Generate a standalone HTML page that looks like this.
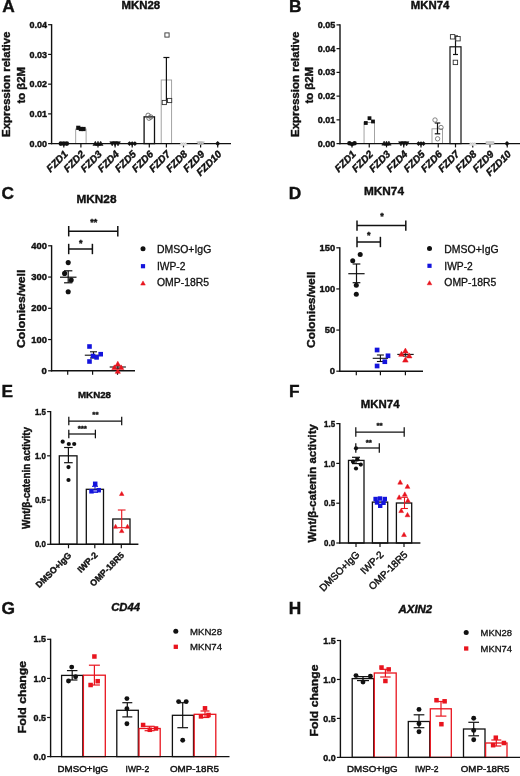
<!DOCTYPE html>
<html><head><meta charset="utf-8"><title>Figure</title>
<style>html,body{margin:0;padding:0;background:#fff}svg{display:block}text{font-family:"Liberation Sans", Arial, sans-serif}</style>
</head><body>
<svg width="520" height="776" viewBox="0 0 520 776">
<rect width="520" height="776" fill="#fff"/>
<text x="2.20" y="12.30" font-size="17.3" font-weight="bold" font-style="normal" text-anchor="start" fill="#111" stroke="#111" stroke-width="0.4">A</text>
<text x="289.00" y="12.40" font-size="17.3" font-weight="bold" font-style="normal" text-anchor="start" fill="#111" stroke="#111" stroke-width="0.4">B</text>
<text x="1.60" y="199.30" font-size="17.3" font-weight="bold" font-style="normal" text-anchor="start" fill="#111" stroke="#111" stroke-width="0.4">C</text>
<text x="288.80" y="199.30" font-size="17.3" font-weight="bold" font-style="normal" text-anchor="start" fill="#111" stroke="#111" stroke-width="0.4">D</text>
<text x="1.60" y="397.00" font-size="17.3" font-weight="bold" font-style="normal" text-anchor="start" fill="#111" stroke="#111" stroke-width="0.4">E</text>
<text x="289.00" y="397.00" font-size="17.3" font-weight="bold" font-style="normal" text-anchor="start" fill="#111" stroke="#111" stroke-width="0.4">F</text>
<text x="1.60" y="614.30" font-size="17.3" font-weight="bold" font-style="normal" text-anchor="start" fill="#111" stroke="#111" stroke-width="0.4">G</text>
<text x="288.80" y="614.00" font-size="17.3" font-weight="bold" font-style="normal" text-anchor="start" fill="#111" stroke="#111" stroke-width="0.4">H</text>
<text x="121.60" y="9.30" font-size="10.6" font-weight="bold" font-style="normal" text-anchor="start" fill="#111" stroke="#111" stroke-width="0.4" textLength="38.6" lengthAdjust="spacingAndGlyphs">MKN28</text>
<g id="pA">
<rect x="75.70" y="129.03" width="10.40" height="14.57" fill="#fff" stroke="#999" stroke-width="0.9"/>
<rect x="144.10" y="116.85" width="10.40" height="26.75" fill="#fff" stroke="#111" stroke-width="1.3"/>
<rect x="161.20" y="80.00" width="10.40" height="63.60" fill="#fff" stroke="#999" stroke-width="0.9"/>
<line x1="50.90" y1="143.60" x2="231.00" y2="143.60" stroke="#111" stroke-width="1.4"/>
<line x1="63.80" y1="143.60" x2="63.80" y2="147.40" stroke="#111" stroke-width="1.2"/>
<text x="68.40" y="154.80" font-size="10.1" font-weight="bold" font-style="italic" text-anchor="end" fill="#111" stroke="#111" stroke-width="0.4" transform="rotate(-45 68.40 154.80)">FZD1</text>
<line x1="80.90" y1="143.60" x2="80.90" y2="147.40" stroke="#111" stroke-width="1.2"/>
<text x="85.50" y="154.80" font-size="10.1" font-weight="bold" font-style="italic" text-anchor="end" fill="#111" stroke="#111" stroke-width="0.4" transform="rotate(-45 85.50 154.80)">FZD2</text>
<line x1="98.00" y1="143.60" x2="98.00" y2="147.40" stroke="#111" stroke-width="1.2"/>
<text x="102.60" y="154.80" font-size="10.1" font-weight="bold" font-style="italic" text-anchor="end" fill="#111" stroke="#111" stroke-width="0.4" transform="rotate(-45 102.60 154.80)">FZD3</text>
<line x1="115.10" y1="143.60" x2="115.10" y2="147.40" stroke="#111" stroke-width="1.2"/>
<text x="119.70" y="154.80" font-size="10.1" font-weight="bold" font-style="italic" text-anchor="end" fill="#111" stroke="#111" stroke-width="0.4" transform="rotate(-45 119.70 154.80)">FZD4</text>
<line x1="132.20" y1="143.60" x2="132.20" y2="147.40" stroke="#111" stroke-width="1.2"/>
<text x="136.80" y="154.80" font-size="10.1" font-weight="bold" font-style="italic" text-anchor="end" fill="#111" stroke="#111" stroke-width="0.4" transform="rotate(-45 136.80 154.80)">FZD5</text>
<line x1="149.30" y1="143.60" x2="149.30" y2="147.40" stroke="#111" stroke-width="1.2"/>
<text x="153.90" y="154.80" font-size="10.1" font-weight="bold" font-style="italic" text-anchor="end" fill="#111" stroke="#111" stroke-width="0.4" transform="rotate(-45 153.90 154.80)">FZD6</text>
<line x1="166.40" y1="143.60" x2="166.40" y2="147.40" stroke="#111" stroke-width="1.2"/>
<text x="171.00" y="154.80" font-size="10.1" font-weight="bold" font-style="italic" text-anchor="end" fill="#111" stroke="#111" stroke-width="0.4" transform="rotate(-45 171.00 154.80)">FZD7</text>
<line x1="183.50" y1="143.60" x2="183.50" y2="147.40" stroke="#111" stroke-width="1.2"/>
<text x="188.10" y="154.80" font-size="10.1" font-weight="bold" font-style="italic" text-anchor="end" fill="#111" stroke="#111" stroke-width="0.4" transform="rotate(-45 188.10 154.80)">FZD8</text>
<line x1="200.60" y1="143.60" x2="200.60" y2="147.40" stroke="#111" stroke-width="1.2"/>
<text x="205.20" y="154.80" font-size="10.1" font-weight="bold" font-style="italic" text-anchor="end" fill="#111" stroke="#111" stroke-width="0.4" transform="rotate(-45 205.20 154.80)">FZD9</text>
<line x1="217.70" y1="143.60" x2="217.70" y2="147.40" stroke="#111" stroke-width="1.2"/>
<text x="222.30" y="154.80" font-size="10.1" font-weight="bold" font-style="italic" text-anchor="end" fill="#111" stroke="#111" stroke-width="0.4" transform="rotate(-45 222.30 154.80)">FZD10</text>
<line x1="51.60" y1="24.10" x2="51.60" y2="144.20" stroke="#111" stroke-width="1.4"/>
<line x1="48.10" y1="143.60" x2="51.60" y2="143.60" stroke="#111" stroke-width="1.2"/>
<text x="46.90" y="146.70" font-size="8.5" font-weight="bold" font-style="normal" text-anchor="end" fill="#111" stroke="#111" stroke-width="0.4" textLength="17.5" lengthAdjust="spacingAndGlyphs">0.00</text>
<line x1="48.10" y1="113.88" x2="51.60" y2="113.88" stroke="#111" stroke-width="1.2"/>
<text x="46.90" y="116.97" font-size="8.5" font-weight="bold" font-style="normal" text-anchor="end" fill="#111" stroke="#111" stroke-width="0.4" textLength="17.5" lengthAdjust="spacingAndGlyphs">0.01</text>
<line x1="48.10" y1="84.15" x2="51.60" y2="84.15" stroke="#111" stroke-width="1.2"/>
<text x="46.90" y="87.25" font-size="8.5" font-weight="bold" font-style="normal" text-anchor="end" fill="#111" stroke="#111" stroke-width="0.4" textLength="17.5" lengthAdjust="spacingAndGlyphs">0.02</text>
<line x1="48.10" y1="54.42" x2="51.60" y2="54.42" stroke="#111" stroke-width="1.2"/>
<text x="46.90" y="57.52" font-size="8.5" font-weight="bold" font-style="normal" text-anchor="end" fill="#111" stroke="#111" stroke-width="0.4" textLength="17.5" lengthAdjust="spacingAndGlyphs">0.03</text>
<line x1="48.10" y1="24.70" x2="51.60" y2="24.70" stroke="#111" stroke-width="1.2"/>
<text x="46.90" y="27.80" font-size="8.5" font-weight="bold" font-style="normal" text-anchor="end" fill="#111" stroke="#111" stroke-width="0.4" textLength="17.5" lengthAdjust="spacingAndGlyphs">0.04</text>
<circle cx="60.80" cy="143.60" r="2.3" fill="#111" stroke="#111" stroke-width="0"/>
<circle cx="63.80" cy="143.60" r="2.3" fill="#111" stroke="#111" stroke-width="0"/>
<circle cx="66.80" cy="143.60" r="2.3" fill="#111" stroke="#111" stroke-width="0"/>
<rect x="76.20" y="125.70" width="4.2" height="4.2" fill="#111" stroke="#111" stroke-width="0"/>
<rect x="78.80" y="126.90" width="4.2" height="4.2" fill="#111" stroke="#111" stroke-width="0"/>
<rect x="81.40" y="126.90" width="4.2" height="4.2" fill="#111" stroke="#111" stroke-width="0"/>
<polygon points="95.30,141.14 92.90,145.46 97.70,145.46" fill="#111" stroke="#111" stroke-width="0.5" stroke-linejoin="round"/>
<polygon points="98.00,141.14 95.60,145.46 100.40,145.46" fill="#111" stroke="#111" stroke-width="0.5" stroke-linejoin="round"/>
<polygon points="100.70,141.14 98.30,145.46 103.10,145.46" fill="#111" stroke="#111" stroke-width="0.5" stroke-linejoin="round"/>
<polygon points="112.20,145.96 109.80,141.64 114.60,141.64" fill="#111" stroke="#111" stroke-width="0.5" stroke-linejoin="round"/>
<polygon points="115.10,145.96 112.70,141.64 117.50,141.64" fill="#111" stroke="#111" stroke-width="0.5" stroke-linejoin="round"/>
<polygon points="118.00,145.96 115.60,141.64 120.40,141.64" fill="#111" stroke="#111" stroke-width="0.5" stroke-linejoin="round"/>
<polygon points="129.50,141.20 131.90,143.60 129.50,146.00 127.10,143.60" fill="#111"/>
<polygon points="132.20,141.20 134.60,143.60 132.20,146.00 129.80,143.60" fill="#111"/>
<polygon points="134.90,141.20 137.30,143.60 134.90,146.00 132.50,143.60" fill="#111"/>
<circle cx="148.10" cy="115.30" r="2.2" fill="none" stroke="#555" stroke-width="0.8"/>
<circle cx="150.80" cy="117.00" r="2.2" fill="none" stroke="#555" stroke-width="0.8"/>
<circle cx="149.00" cy="118.20" r="2.2" fill="none" stroke="#555" stroke-width="0.8"/>
<line x1="166.40" y1="57.50" x2="166.40" y2="102.00" stroke="#111" stroke-width="1.2"/>
<line x1="163.40" y1="57.50" x2="169.40" y2="57.50" stroke="#111" stroke-width="1.2"/>
<line x1="163.40" y1="102.00" x2="169.40" y2="102.00" stroke="#111" stroke-width="1.2"/>
<rect x="164.90" y="32.90" width="4.2" height="4.2" fill="#fff" stroke="#333" stroke-width="0.9"/>
<rect x="162.20" y="100.40" width="4.2" height="4.2" fill="#fff" stroke="#333" stroke-width="0.9"/>
<rect x="167.50" y="98.40" width="4.2" height="4.2" fill="#fff" stroke="#333" stroke-width="0.9"/>
<polygon points="181.50,141.98 179.70,145.22 183.30,145.22" fill="#ddd" stroke="#ddd" stroke-width="0.5" stroke-linejoin="round"/>
<polygon points="183.50,141.98 181.70,145.22 185.30,145.22" fill="#ddd" stroke="#ddd" stroke-width="0.5" stroke-linejoin="round"/>
<polygon points="185.50,141.98 183.70,145.22 187.30,145.22" fill="#ddd" stroke="#ddd" stroke-width="0.5" stroke-linejoin="round"/>
<polygon points="198.60,144.92 196.80,141.68 200.40,141.68" fill="#bbb" stroke="#bbb" stroke-width="0.5" stroke-linejoin="round"/>
<polygon points="200.60,144.92 198.80,141.68 202.40,141.68" fill="#bbb" stroke="#bbb" stroke-width="0.5" stroke-linejoin="round"/>
<polygon points="202.60,144.92 200.80,141.68 204.40,141.68" fill="#bbb" stroke="#bbb" stroke-width="0.5" stroke-linejoin="round"/>
<polygon points="217.70,141.10 220.20,143.60 217.70,146.10 215.20,143.60" fill="#111"/>
</g>
<text x="10.30" y="137.00" font-size="11" font-weight="bold" font-style="normal" text-anchor="start" fill="#111" stroke="#111" stroke-width="0.4" textLength="105.5" lengthAdjust="spacingAndGlyphs" transform="rotate(-90 10.30 137.00)">Expression relative</text>
<text x="24.60" y="103.50" font-size="11" font-weight="bold" font-style="normal" text-anchor="start" fill="#111" stroke="#111" stroke-width="0.4" textLength="36.5" lengthAdjust="spacingAndGlyphs" transform="rotate(-90 24.60 103.50)">to β2M</text>
<text x="410.80" y="9.00" font-size="10.6" font-weight="bold" font-style="normal" text-anchor="start" fill="#111" stroke="#111" stroke-width="0.4" textLength="38.6" lengthAdjust="spacingAndGlyphs">MKN74</text>
<g id="pB">
<rect x="364.05" y="122.47" width="10.40" height="21.13" fill="#fff" stroke="#999" stroke-width="0.9"/>
<rect x="432.00" y="128.80" width="10.50" height="14.80" fill="#fff" stroke="#999" stroke-width="0.9"/>
<rect x="450.00" y="46.80" width="11.00" height="96.80" fill="#fff" stroke="#111" stroke-width="1.2"/>
<line x1="339.30" y1="143.60" x2="520.00" y2="143.60" stroke="#111" stroke-width="1.4"/>
<line x1="352.00" y1="143.60" x2="352.00" y2="147.40" stroke="#111" stroke-width="1.2"/>
<text x="356.60" y="154.80" font-size="10.1" font-weight="bold" font-style="italic" text-anchor="end" fill="#111" stroke="#111" stroke-width="0.4" transform="rotate(-45 356.60 154.80)">FZD1</text>
<line x1="369.25" y1="143.60" x2="369.25" y2="147.40" stroke="#111" stroke-width="1.2"/>
<text x="373.85" y="154.80" font-size="10.1" font-weight="bold" font-style="italic" text-anchor="end" fill="#111" stroke="#111" stroke-width="0.4" transform="rotate(-45 373.85 154.80)">FZD2</text>
<line x1="386.50" y1="143.60" x2="386.50" y2="147.40" stroke="#111" stroke-width="1.2"/>
<text x="391.10" y="154.80" font-size="10.1" font-weight="bold" font-style="italic" text-anchor="end" fill="#111" stroke="#111" stroke-width="0.4" transform="rotate(-45 391.10 154.80)">FZD3</text>
<line x1="403.75" y1="143.60" x2="403.75" y2="147.40" stroke="#111" stroke-width="1.2"/>
<text x="408.35" y="154.80" font-size="10.1" font-weight="bold" font-style="italic" text-anchor="end" fill="#111" stroke="#111" stroke-width="0.4" transform="rotate(-45 408.35 154.80)">FZD4</text>
<line x1="421.00" y1="143.60" x2="421.00" y2="147.40" stroke="#111" stroke-width="1.2"/>
<text x="425.60" y="154.80" font-size="10.1" font-weight="bold" font-style="italic" text-anchor="end" fill="#111" stroke="#111" stroke-width="0.4" transform="rotate(-45 425.60 154.80)">FZD5</text>
<line x1="438.25" y1="143.60" x2="438.25" y2="147.40" stroke="#111" stroke-width="1.2"/>
<text x="442.85" y="154.80" font-size="10.1" font-weight="bold" font-style="italic" text-anchor="end" fill="#111" stroke="#111" stroke-width="0.4" transform="rotate(-45 442.85 154.80)">FZD6</text>
<line x1="455.50" y1="143.60" x2="455.50" y2="147.40" stroke="#111" stroke-width="1.2"/>
<text x="460.10" y="154.80" font-size="10.1" font-weight="bold" font-style="italic" text-anchor="end" fill="#111" stroke="#111" stroke-width="0.4" transform="rotate(-45 460.10 154.80)">FZD7</text>
<line x1="472.75" y1="143.60" x2="472.75" y2="147.40" stroke="#111" stroke-width="1.2"/>
<text x="477.35" y="154.80" font-size="10.1" font-weight="bold" font-style="italic" text-anchor="end" fill="#111" stroke="#111" stroke-width="0.4" transform="rotate(-45 477.35 154.80)">FZD8</text>
<line x1="490.00" y1="143.60" x2="490.00" y2="147.40" stroke="#111" stroke-width="1.2"/>
<text x="494.60" y="154.80" font-size="10.1" font-weight="bold" font-style="italic" text-anchor="end" fill="#111" stroke="#111" stroke-width="0.4" transform="rotate(-45 494.60 154.80)">FZD9</text>
<line x1="507.25" y1="143.60" x2="507.25" y2="147.40" stroke="#111" stroke-width="1.2"/>
<text x="511.85" y="154.80" font-size="10.1" font-weight="bold" font-style="italic" text-anchor="end" fill="#111" stroke="#111" stroke-width="0.4" transform="rotate(-45 511.85 154.80)">FZD10</text>
<line x1="340.00" y1="24.30" x2="340.00" y2="144.20" stroke="#111" stroke-width="1.4"/>
<line x1="336.50" y1="143.60" x2="340.00" y2="143.60" stroke="#111" stroke-width="1.2"/>
<text x="335.30" y="146.70" font-size="8.5" font-weight="bold" font-style="normal" text-anchor="end" fill="#111" stroke="#111" stroke-width="0.4" textLength="17.5" lengthAdjust="spacingAndGlyphs">0.00</text>
<line x1="336.50" y1="119.86" x2="340.00" y2="119.86" stroke="#111" stroke-width="1.2"/>
<text x="335.30" y="122.96" font-size="8.5" font-weight="bold" font-style="normal" text-anchor="end" fill="#111" stroke="#111" stroke-width="0.4" textLength="17.5" lengthAdjust="spacingAndGlyphs">0.01</text>
<line x1="336.50" y1="96.12" x2="340.00" y2="96.12" stroke="#111" stroke-width="1.2"/>
<text x="335.30" y="99.22" font-size="8.5" font-weight="bold" font-style="normal" text-anchor="end" fill="#111" stroke="#111" stroke-width="0.4" textLength="17.5" lengthAdjust="spacingAndGlyphs">0.02</text>
<line x1="336.50" y1="72.38" x2="340.00" y2="72.38" stroke="#111" stroke-width="1.2"/>
<text x="335.30" y="75.48" font-size="8.5" font-weight="bold" font-style="normal" text-anchor="end" fill="#111" stroke="#111" stroke-width="0.4" textLength="17.5" lengthAdjust="spacingAndGlyphs">0.03</text>
<line x1="336.50" y1="48.64" x2="340.00" y2="48.64" stroke="#111" stroke-width="1.2"/>
<text x="335.30" y="51.74" font-size="8.5" font-weight="bold" font-style="normal" text-anchor="end" fill="#111" stroke="#111" stroke-width="0.4" textLength="17.5" lengthAdjust="spacingAndGlyphs">0.04</text>
<line x1="336.50" y1="24.90" x2="340.00" y2="24.90" stroke="#111" stroke-width="1.2"/>
<text x="335.30" y="28.00" font-size="8.5" font-weight="bold" font-style="normal" text-anchor="end" fill="#111" stroke="#111" stroke-width="0.4" textLength="17.5" lengthAdjust="spacingAndGlyphs">0.05</text>
<circle cx="349.40" cy="143.30" r="2.2" fill="#111" stroke="#111" stroke-width="0"/>
<circle cx="352.00" cy="144.10" r="2.2" fill="#111" stroke="#111" stroke-width="0"/>
<circle cx="354.60" cy="143.30" r="2.2" fill="#111" stroke="#111" stroke-width="0"/>
<rect x="363.90" y="121.10" width="3.8" height="3.8" fill="#111" stroke="#111" stroke-width="0"/>
<rect x="367.60" y="116.30" width="3.8" height="3.8" fill="#111" stroke="#111" stroke-width="0"/>
<rect x="371.10" y="119.60" width="3.8" height="3.8" fill="#111" stroke="#111" stroke-width="0"/>
<polygon points="384.10,141.03 381.80,145.17 386.40,145.17" fill="#111" stroke="#111" stroke-width="0.5" stroke-linejoin="round"/>
<polygon points="386.50,141.03 384.20,145.17 388.80,145.17" fill="#111" stroke="#111" stroke-width="0.5" stroke-linejoin="round"/>
<polygon points="388.90,141.03 386.60,145.17 391.20,145.17" fill="#111" stroke="#111" stroke-width="0.5" stroke-linejoin="round"/>
<polygon points="400.95,145.96 398.55,141.64 403.35,141.64" fill="#111" stroke="#111" stroke-width="0.5" stroke-linejoin="round"/>
<polygon points="403.75,145.96 401.35,141.64 406.15,141.64" fill="#111" stroke="#111" stroke-width="0.5" stroke-linejoin="round"/>
<polygon points="406.55,145.96 404.15,141.64 408.95,141.64" fill="#111" stroke="#111" stroke-width="0.5" stroke-linejoin="round"/>
<polygon points="418.50,141.30 420.80,143.60 418.50,145.90 416.20,143.60" fill="#111"/>
<polygon points="421.00,141.30 423.30,143.60 421.00,145.90 418.70,143.60" fill="#111"/>
<polygon points="423.50,141.30 425.80,143.60 423.50,145.90 421.20,143.60" fill="#111"/>
<line x1="437.50" y1="123.00" x2="437.50" y2="133.80" stroke="#111" stroke-width="1.2"/>
<line x1="434.75" y1="123.00" x2="440.25" y2="123.00" stroke="#111" stroke-width="1.2"/>
<line x1="434.75" y1="133.80" x2="440.25" y2="133.80" stroke="#111" stroke-width="1.2"/>
<circle cx="435.00" cy="120.00" r="2.2" fill="none" stroke="#666" stroke-width="0.8"/>
<circle cx="441.00" cy="127.50" r="2.2" fill="none" stroke="#666" stroke-width="0.8"/>
<circle cx="437.60" cy="138.80" r="2.2" fill="none" stroke="#666" stroke-width="0.8"/>
<line x1="455.50" y1="36.00" x2="455.50" y2="54.50" stroke="#111" stroke-width="1.2"/>
<line x1="453.00" y1="36.00" x2="458.00" y2="36.00" stroke="#111" stroke-width="1.2"/>
<line x1="453.00" y1="54.50" x2="458.00" y2="54.50" stroke="#111" stroke-width="1.2"/>
<rect x="450.40" y="34.60" width="4.4" height="4.4" fill="#fff" stroke="#333" stroke-width="0.9"/>
<rect x="455.80" y="36.50" width="4.4" height="4.4" fill="#fff" stroke="#333" stroke-width="0.9"/>
<rect x="453.20" y="60.20" width="4.4" height="4.4" fill="#fff" stroke="#333" stroke-width="0.9"/>
<polygon points="470.75,141.98 468.95,145.22 472.55,145.22" fill="#ddd" stroke="#ddd" stroke-width="0.5" stroke-linejoin="round"/>
<polygon points="472.75,141.98 470.95,145.22 474.55,145.22" fill="#ddd" stroke="#ddd" stroke-width="0.5" stroke-linejoin="round"/>
<polygon points="474.75,141.98 472.95,145.22 476.55,145.22" fill="#ddd" stroke="#ddd" stroke-width="0.5" stroke-linejoin="round"/>
<rect x="486.00" y="141.80" width="8.00" height="2.70" fill="#ccc" stroke="#aaa" stroke-width="0.6"/>
<polygon points="507.00,141.10 509.50,143.60 507.00,146.10 504.50,143.60" fill="#111"/>
</g>
<text x="298.50" y="137.00" font-size="11" font-weight="bold" font-style="normal" text-anchor="start" fill="#111" stroke="#111" stroke-width="0.4" textLength="105.5" lengthAdjust="spacingAndGlyphs" transform="rotate(-90 298.50 137.00)">Expression relative</text>
<text x="312.50" y="103.50" font-size="11" font-weight="bold" font-style="normal" text-anchor="start" fill="#111" stroke="#111" stroke-width="0.4" textLength="36.5" lengthAdjust="spacingAndGlyphs" transform="rotate(-90 312.50 103.50)">to β2M</text>
<text x="76.50" y="203.00" font-size="11.5" font-weight="bold" font-style="normal" text-anchor="start" fill="#111" stroke="#111" stroke-width="0.4" textLength="40" lengthAdjust="spacingAndGlyphs">MKN28</text>
<line x1="50.90" y1="370.80" x2="135.00" y2="370.80" stroke="#111" stroke-width="1.4"/>
<line x1="67.70" y1="370.80" x2="67.70" y2="374.80" stroke="#111" stroke-width="1.2"/>
<line x1="92.60" y1="370.80" x2="92.60" y2="374.80" stroke="#111" stroke-width="1.2"/>
<line x1="117.50" y1="370.80" x2="117.50" y2="374.80" stroke="#111" stroke-width="1.2"/>
<line x1="51.60" y1="245.20" x2="51.60" y2="371.40" stroke="#111" stroke-width="1.4"/>
<line x1="48.10" y1="370.80" x2="51.60" y2="370.80" stroke="#111" stroke-width="1.2"/>
<text x="46.90" y="373.90" font-size="8.8" font-weight="bold" font-style="normal" text-anchor="end" fill="#111" stroke="#111" stroke-width="0.4" textLength="5.3" lengthAdjust="spacingAndGlyphs">0</text>
<line x1="48.10" y1="339.55" x2="51.60" y2="339.55" stroke="#111" stroke-width="1.2"/>
<text x="46.90" y="342.65" font-size="8.8" font-weight="bold" font-style="normal" text-anchor="end" fill="#111" stroke="#111" stroke-width="0.4" textLength="15.6" lengthAdjust="spacingAndGlyphs">100</text>
<line x1="48.10" y1="308.30" x2="51.60" y2="308.30" stroke="#111" stroke-width="1.2"/>
<text x="46.90" y="311.40" font-size="8.8" font-weight="bold" font-style="normal" text-anchor="end" fill="#111" stroke="#111" stroke-width="0.4" textLength="15.6" lengthAdjust="spacingAndGlyphs">200</text>
<line x1="48.10" y1="277.05" x2="51.60" y2="277.05" stroke="#111" stroke-width="1.2"/>
<text x="46.90" y="280.15" font-size="8.8" font-weight="bold" font-style="normal" text-anchor="end" fill="#111" stroke="#111" stroke-width="0.4" textLength="15.6" lengthAdjust="spacingAndGlyphs">300</text>
<line x1="48.10" y1="245.80" x2="51.60" y2="245.80" stroke="#111" stroke-width="1.2"/>
<text x="46.90" y="248.90" font-size="8.8" font-weight="bold" font-style="normal" text-anchor="end" fill="#111" stroke="#111" stroke-width="0.4" textLength="15.6" lengthAdjust="spacingAndGlyphs">400</text>
<line x1="68.70" y1="231.20" x2="117.80" y2="231.20" stroke="#111" stroke-width="1.5"/>
<line x1="68.70" y1="226.00" x2="68.70" y2="236.40" stroke="#111" stroke-width="1.5"/>
<line x1="117.80" y1="226.00" x2="117.80" y2="236.40" stroke="#111" stroke-width="1.5"/>
<line x1="68.70" y1="249.00" x2="92.40" y2="249.00" stroke="#111" stroke-width="1.5"/>
<line x1="68.70" y1="243.80" x2="68.70" y2="254.20" stroke="#111" stroke-width="1.5"/>
<line x1="92.40" y1="243.80" x2="92.40" y2="254.20" stroke="#111" stroke-width="1.5"/>
<text x="93.80" y="225.00" font-size="9" font-weight="bold" font-style="normal" text-anchor="middle" fill="#111" stroke="#111" stroke-width="0.4">**</text>
<text x="80.80" y="246.00" font-size="9" font-weight="bold" font-style="normal" text-anchor="middle" fill="#111" stroke="#111" stroke-width="0.4">*</text>
<line x1="60.00" y1="277.20" x2="76.50" y2="277.20" stroke="#111" stroke-width="1.2"/>
<line x1="68.20" y1="270.80" x2="68.20" y2="282.80" stroke="#111" stroke-width="1.2"/>
<line x1="64.05" y1="270.80" x2="72.35" y2="270.80" stroke="#111" stroke-width="1.2"/>
<line x1="64.05" y1="282.80" x2="72.35" y2="282.80" stroke="#111" stroke-width="1.2"/>
<circle cx="68.20" cy="262.60" r="2.55" fill="#111" stroke="#111" stroke-width="0"/>
<circle cx="64.60" cy="273.40" r="2.55" fill="#111" stroke="#111" stroke-width="0"/>
<circle cx="71.20" cy="280.00" r="2.55" fill="#111" stroke="#111" stroke-width="0"/>
<circle cx="68.20" cy="291.80" r="2.55" fill="#111" stroke="#111" stroke-width="0"/>
<line x1="84.80" y1="355.20" x2="102.30" y2="355.20" stroke="#111" stroke-width="1.1"/>
<line x1="93.50" y1="351.80" x2="93.50" y2="358.00" stroke="#111" stroke-width="1.1"/>
<line x1="90.00" y1="351.80" x2="97.00" y2="351.80" stroke="#111" stroke-width="1.1"/>
<line x1="90.00" y1="358.00" x2="97.00" y2="358.00" stroke="#111" stroke-width="1.1"/>
<rect x="87.20" y="344.20" width="4.6" height="4.6" fill="#1414dc" stroke="#1414dc" stroke-width="0"/>
<rect x="98.40" y="351.90" width="4.6" height="4.6" fill="#1414dc" stroke="#1414dc" stroke-width="0"/>
<rect x="94.30" y="355.10" width="4.6" height="4.6" fill="#1414dc" stroke="#1414dc" stroke-width="0"/>
<rect x="90.70" y="353.70" width="4.6" height="4.6" fill="#1414dc" stroke="#1414dc" stroke-width="0"/>
<rect x="87.20" y="359.20" width="4.6" height="4.6" fill="#1414dc" stroke="#1414dc" stroke-width="0"/>
<line x1="109.70" y1="367.00" x2="125.90" y2="367.00" stroke="#111" stroke-width="1.1"/>
<line x1="117.80" y1="365.40" x2="117.80" y2="368.60" stroke="#111" stroke-width="0.9"/>
<line x1="115.30" y1="365.40" x2="120.30" y2="365.40" stroke="#111" stroke-width="0.9"/>
<line x1="115.30" y1="368.60" x2="120.30" y2="368.60" stroke="#111" stroke-width="0.9"/>
<polygon points="117.80,361.26 115.20,365.94 120.40,365.94" fill="#e8141e" stroke="#e8141e" stroke-width="0.5" stroke-linejoin="round"/>
<polygon points="114.40,364.86 111.80,369.54 117.00,369.54" fill="#e8141e" stroke="#e8141e" stroke-width="0.5" stroke-linejoin="round"/>
<polygon points="121.20,364.86 118.60,369.54 123.80,369.54" fill="#e8141e" stroke="#e8141e" stroke-width="0.5" stroke-linejoin="round"/>
<polygon points="117.80,368.66 115.20,373.34 120.40,373.34" fill="#e8141e" stroke="#e8141e" stroke-width="0.5" stroke-linejoin="round"/>
<text x="25.30" y="348.00" font-size="11.6" font-weight="bold" font-style="normal" text-anchor="start" fill="#111" stroke="#111" stroke-width="0.4" textLength="78.3" lengthAdjust="spacingAndGlyphs" transform="rotate(-90 25.30 348.00)">Colonies/well</text>
<circle cx="143.00" cy="248.80" r="2.5" fill="#111" stroke="#111" stroke-width="0"/>
<rect x="140.90" y="264.10" width="4.2" height="4.2" fill="#1414dc" stroke="#1414dc" stroke-width="0"/>
<polygon points="143.00,280.93 140.70,285.07 145.30,285.07" fill="#e8141e" stroke="#e8141e" stroke-width="0.5" stroke-linejoin="round"/>
<text x="157.00" y="253.00" font-size="10.3" font-weight="normal" font-style="normal" text-anchor="start" fill="#111" stroke="#111" stroke-width="0.3" textLength="54.3" lengthAdjust="spacingAndGlyphs">DMSO+IgG</text>
<text x="157.00" y="270.00" font-size="10.3" font-weight="normal" font-style="normal" text-anchor="start" fill="#111" stroke="#111" stroke-width="0.3" textLength="28.5" lengthAdjust="spacingAndGlyphs">IWP-2</text>
<text x="157.00" y="286.30" font-size="10.3" font-weight="normal" font-style="normal" text-anchor="start" fill="#111" stroke="#111" stroke-width="0.3" textLength="52" lengthAdjust="spacingAndGlyphs">OMP-18R5</text>
<text x="364.00" y="195.00" font-size="11.5" font-weight="bold" font-style="normal" text-anchor="start" fill="#111" stroke="#111" stroke-width="0.4" textLength="40" lengthAdjust="spacingAndGlyphs">MKN74</text>
<line x1="339.10" y1="371.20" x2="423.00" y2="371.20" stroke="#111" stroke-width="1.4"/>
<line x1="356.30" y1="371.20" x2="356.30" y2="375.20" stroke="#111" stroke-width="1.2"/>
<line x1="380.40" y1="371.20" x2="380.40" y2="375.20" stroke="#111" stroke-width="1.2"/>
<line x1="405.40" y1="371.20" x2="405.40" y2="375.20" stroke="#111" stroke-width="1.2"/>
<line x1="339.80" y1="247.20" x2="339.80" y2="371.80" stroke="#111" stroke-width="1.4"/>
<line x1="336.30" y1="371.20" x2="339.80" y2="371.20" stroke="#111" stroke-width="1.2"/>
<text x="335.10" y="374.30" font-size="8.8" font-weight="bold" font-style="normal" text-anchor="end" fill="#111" stroke="#111" stroke-width="0.4" textLength="5.3" lengthAdjust="spacingAndGlyphs">0</text>
<line x1="336.30" y1="330.07" x2="339.80" y2="330.07" stroke="#111" stroke-width="1.2"/>
<text x="335.10" y="333.17" font-size="8.8" font-weight="bold" font-style="normal" text-anchor="end" fill="#111" stroke="#111" stroke-width="0.4" textLength="10.4" lengthAdjust="spacingAndGlyphs">50</text>
<line x1="336.30" y1="288.93" x2="339.80" y2="288.93" stroke="#111" stroke-width="1.2"/>
<text x="335.10" y="292.03" font-size="8.8" font-weight="bold" font-style="normal" text-anchor="end" fill="#111" stroke="#111" stroke-width="0.4" textLength="15.6" lengthAdjust="spacingAndGlyphs">100</text>
<line x1="336.30" y1="247.80" x2="339.80" y2="247.80" stroke="#111" stroke-width="1.2"/>
<text x="335.10" y="250.90" font-size="8.8" font-weight="bold" font-style="normal" text-anchor="end" fill="#111" stroke="#111" stroke-width="0.4" textLength="15.6" lengthAdjust="spacingAndGlyphs">150</text>
<line x1="357.00" y1="225.60" x2="405.80" y2="225.60" stroke="#111" stroke-width="1.5"/>
<line x1="357.00" y1="220.40" x2="357.00" y2="230.80" stroke="#111" stroke-width="1.5"/>
<line x1="405.80" y1="220.40" x2="405.80" y2="230.80" stroke="#111" stroke-width="1.5"/>
<line x1="357.00" y1="242.00" x2="380.40" y2="242.00" stroke="#111" stroke-width="1.5"/>
<line x1="357.00" y1="236.80" x2="357.00" y2="247.20" stroke="#111" stroke-width="1.5"/>
<line x1="380.40" y1="236.80" x2="380.40" y2="247.20" stroke="#111" stroke-width="1.5"/>
<text x="382.00" y="219.30" font-size="9" font-weight="bold" font-style="normal" text-anchor="middle" fill="#111" stroke="#111" stroke-width="0.4">*</text>
<text x="368.80" y="238.00" font-size="9" font-weight="bold" font-style="normal" text-anchor="middle" fill="#111" stroke="#111" stroke-width="0.4">*</text>
<line x1="348.30" y1="273.70" x2="364.60" y2="273.70" stroke="#111" stroke-width="1.2"/>
<line x1="356.50" y1="264.00" x2="356.50" y2="282.70" stroke="#111" stroke-width="1.2"/>
<line x1="352.65" y1="264.00" x2="360.35" y2="264.00" stroke="#111" stroke-width="1.2"/>
<line x1="352.65" y1="282.70" x2="360.35" y2="282.70" stroke="#111" stroke-width="1.2"/>
<circle cx="360.20" cy="254.40" r="2.5" fill="#111" stroke="#111" stroke-width="0"/>
<circle cx="352.70" cy="260.80" r="2.5" fill="#111" stroke="#111" stroke-width="0"/>
<circle cx="356.30" cy="285.20" r="2.5" fill="#111" stroke="#111" stroke-width="0"/>
<circle cx="356.30" cy="294.20" r="2.5" fill="#111" stroke="#111" stroke-width="0"/>
<line x1="372.70" y1="358.30" x2="388.00" y2="358.30" stroke="#111" stroke-width="1.1"/>
<line x1="380.40" y1="355.00" x2="380.40" y2="361.50" stroke="#111" stroke-width="1.1"/>
<line x1="376.90" y1="355.00" x2="383.90" y2="355.00" stroke="#111" stroke-width="1.1"/>
<line x1="376.90" y1="361.50" x2="383.90" y2="361.50" stroke="#111" stroke-width="1.1"/>
<rect x="374.75" y="347.65" width="4.7" height="4.7" fill="#1414dc" stroke="#1414dc" stroke-width="0"/>
<rect x="385.65" y="353.45" width="4.7" height="4.7" fill="#1414dc" stroke="#1414dc" stroke-width="0"/>
<rect x="382.45" y="359.35" width="4.7" height="4.7" fill="#1414dc" stroke="#1414dc" stroke-width="0"/>
<rect x="374.75" y="363.65" width="4.7" height="4.7" fill="#1414dc" stroke="#1414dc" stroke-width="0"/>
<line x1="397.30" y1="354.40" x2="413.70" y2="354.40" stroke="#111" stroke-width="1.1"/>
<line x1="405.40" y1="352.60" x2="405.40" y2="356.20" stroke="#111" stroke-width="0.9"/>
<line x1="402.90" y1="352.60" x2="407.90" y2="352.60" stroke="#111" stroke-width="0.9"/>
<line x1="402.90" y1="356.20" x2="407.90" y2="356.20" stroke="#111" stroke-width="0.9"/>
<polygon points="405.40,348.08 402.60,353.12 408.20,353.12" fill="#e8141e" stroke="#e8141e" stroke-width="0.5" stroke-linejoin="round"/>
<polygon points="401.50,351.28 398.70,356.32 404.30,356.32" fill="#e8141e" stroke="#e8141e" stroke-width="0.5" stroke-linejoin="round"/>
<polygon points="409.20,352.88 406.40,357.92 412.00,357.92" fill="#e8141e" stroke="#e8141e" stroke-width="0.5" stroke-linejoin="round"/>
<polygon points="405.40,357.08 402.60,362.12 408.20,362.12" fill="#e8141e" stroke="#e8141e" stroke-width="0.5" stroke-linejoin="round"/>
<text x="314.60" y="348.00" font-size="11.6" font-weight="bold" font-style="normal" text-anchor="start" fill="#111" stroke="#111" stroke-width="0.4" textLength="76.4" lengthAdjust="spacingAndGlyphs" transform="rotate(-90 314.60 348.00)">Colonies/well</text>
<circle cx="429.50" cy="248.50" r="2.5" fill="#111" stroke="#111" stroke-width="0"/>
<rect x="427.40" y="263.70" width="4.2" height="4.2" fill="#1414dc" stroke="#1414dc" stroke-width="0"/>
<polygon points="429.50,280.63 427.20,284.77 431.80,284.77" fill="#e8141e" stroke="#e8141e" stroke-width="0.5" stroke-linejoin="round"/>
<text x="444.30" y="252.70" font-size="10.3" font-weight="normal" font-style="normal" text-anchor="start" fill="#111" stroke="#111" stroke-width="0.3" textLength="54.3" lengthAdjust="spacingAndGlyphs">DMSO+IgG</text>
<text x="444.30" y="269.60" font-size="10.3" font-weight="normal" font-style="normal" text-anchor="start" fill="#111" stroke="#111" stroke-width="0.3" textLength="28.5" lengthAdjust="spacingAndGlyphs">IWP-2</text>
<text x="444.30" y="286.00" font-size="10.3" font-weight="normal" font-style="normal" text-anchor="start" fill="#111" stroke="#111" stroke-width="0.3" textLength="52" lengthAdjust="spacingAndGlyphs">OMP-18R5</text>
<text x="78.00" y="397.50" font-size="9.5" font-weight="bold" font-style="normal" text-anchor="start" fill="#111" stroke="#111" stroke-width="0.4" textLength="33" lengthAdjust="spacingAndGlyphs">MKN28</text>
<rect x="59.30" y="455.83" width="17.70" height="88.47" fill="#fff" stroke="#111" stroke-width="1.3"/>
<rect x="86.30" y="489.30" width="17.20" height="55.00" fill="#fff" stroke="#111" stroke-width="1.3"/>
<rect x="112.80" y="519.00" width="17.20" height="25.30" fill="#fff" stroke="#111" stroke-width="1.3"/>
<line x1="49.90" y1="544.30" x2="138.40" y2="544.30" stroke="#111" stroke-width="1.4"/>
<line x1="68.50" y1="544.30" x2="68.50" y2="548.30" stroke="#111" stroke-width="1.2"/>
<text x="71.90" y="555.90" font-size="8.8" font-weight="bold" font-style="normal" text-anchor="end" fill="#111" stroke="#111" stroke-width="0.4" transform="rotate(-45 71.90 555.90)">DMSO+IgG</text>
<line x1="94.80" y1="544.30" x2="94.80" y2="548.30" stroke="#111" stroke-width="1.2"/>
<text x="98.20" y="555.90" font-size="8.8" font-weight="bold" font-style="normal" text-anchor="end" fill="#111" stroke="#111" stroke-width="0.4" transform="rotate(-45 98.20 555.90)">IWP-2</text>
<line x1="121.30" y1="544.30" x2="121.30" y2="548.30" stroke="#111" stroke-width="1.2"/>
<text x="124.70" y="555.90" font-size="8.8" font-weight="bold" font-style="normal" text-anchor="end" fill="#111" stroke="#111" stroke-width="0.4" transform="rotate(-45 124.70 555.90)">OMP-18R5</text>
<line x1="50.60" y1="411.00" x2="50.60" y2="544.90" stroke="#111" stroke-width="1.4"/>
<line x1="47.10" y1="544.30" x2="50.60" y2="544.30" stroke="#111" stroke-width="1.2"/>
<text x="45.90" y="547.40" font-size="8.5" font-weight="bold" font-style="normal" text-anchor="end" fill="#111" stroke="#111" stroke-width="0.4" textLength="11" lengthAdjust="spacingAndGlyphs">0.0</text>
<line x1="47.10" y1="500.07" x2="50.60" y2="500.07" stroke="#111" stroke-width="1.2"/>
<text x="45.90" y="503.17" font-size="8.5" font-weight="bold" font-style="normal" text-anchor="end" fill="#111" stroke="#111" stroke-width="0.4" textLength="11" lengthAdjust="spacingAndGlyphs">0.5</text>
<line x1="47.10" y1="455.83" x2="50.60" y2="455.83" stroke="#111" stroke-width="1.2"/>
<text x="45.90" y="458.93" font-size="8.5" font-weight="bold" font-style="normal" text-anchor="end" fill="#111" stroke="#111" stroke-width="0.4" textLength="11" lengthAdjust="spacingAndGlyphs">1.0</text>
<line x1="47.10" y1="411.60" x2="50.60" y2="411.60" stroke="#111" stroke-width="1.2"/>
<text x="45.90" y="414.70" font-size="8.5" font-weight="bold" font-style="normal" text-anchor="end" fill="#111" stroke="#111" stroke-width="0.4" textLength="11" lengthAdjust="spacingAndGlyphs">1.5</text>
<line x1="68.80" y1="421.00" x2="121.70" y2="421.00" stroke="#111" stroke-width="1.25"/>
<line x1="68.80" y1="416.70" x2="68.80" y2="425.30" stroke="#111" stroke-width="1.25"/>
<line x1="121.70" y1="416.70" x2="121.70" y2="425.30" stroke="#111" stroke-width="1.25"/>
<line x1="68.80" y1="434.00" x2="95.40" y2="434.00" stroke="#111" stroke-width="1.25"/>
<line x1="68.80" y1="429.70" x2="68.80" y2="438.30" stroke="#111" stroke-width="1.25"/>
<line x1="95.40" y1="429.70" x2="95.40" y2="438.30" stroke="#111" stroke-width="1.25"/>
<text x="95.40" y="417.00" font-size="8" font-weight="bold" font-style="normal" text-anchor="middle" fill="#111" stroke="#111" stroke-width="0.4">**</text>
<text x="82.30" y="431.00" font-size="8" font-weight="bold" font-style="normal" text-anchor="middle" fill="#111" stroke="#111" stroke-width="0.4">***</text>
<line x1="68.40" y1="447.50" x2="68.40" y2="462.70" stroke="#111" stroke-width="1.2"/>
<line x1="64.10" y1="447.50" x2="72.70" y2="447.50" stroke="#111" stroke-width="1.2"/>
<line x1="64.10" y1="462.70" x2="72.70" y2="462.70" stroke="#111" stroke-width="1.2"/>
<circle cx="62.70" cy="441.70" r="2.1" fill="#111" stroke="#111" stroke-width="0"/>
<circle cx="68.80" cy="444.00" r="2.1" fill="#111" stroke="#111" stroke-width="0"/>
<circle cx="74.20" cy="444.00" r="2.1" fill="#111" stroke="#111" stroke-width="0"/>
<circle cx="68.50" cy="467.10" r="2.1" fill="#111" stroke="#111" stroke-width="0"/>
<circle cx="68.50" cy="480.00" r="2.1" fill="#111" stroke="#111" stroke-width="0"/>
<line x1="95.00" y1="486.30" x2="95.00" y2="492.30" stroke="#1414dc" stroke-width="1.1"/>
<line x1="92.00" y1="486.30" x2="98.00" y2="486.30" stroke="#1414dc" stroke-width="1.1"/>
<line x1="92.00" y1="492.30" x2="98.00" y2="492.30" stroke="#1414dc" stroke-width="1.1"/>
<rect x="92.95" y="481.55" width="4.5" height="4.5" fill="#1414dc" stroke="#1414dc" stroke-width="0"/>
<rect x="89.25" y="489.05" width="4.5" height="4.5" fill="#1414dc" stroke="#1414dc" stroke-width="0"/>
<rect x="96.45" y="487.95" width="4.5" height="4.5" fill="#1414dc" stroke="#1414dc" stroke-width="0"/>
<line x1="121.70" y1="510.00" x2="121.70" y2="527.70" stroke="#e8141e" stroke-width="1.1"/>
<line x1="117.85" y1="510.00" x2="125.55" y2="510.00" stroke="#e8141e" stroke-width="1.1"/>
<line x1="117.85" y1="527.70" x2="125.55" y2="527.70" stroke="#e8141e" stroke-width="1.1"/>
<polygon points="121.70,491.48 119.45,495.52 123.95,495.52" fill="#e8141e" stroke="#e8141e" stroke-width="0.5" stroke-linejoin="round"/>
<polygon points="115.60,524.27 113.35,528.32 117.85,528.32" fill="#e8141e" stroke="#e8141e" stroke-width="0.5" stroke-linejoin="round"/>
<polygon points="127.50,524.27 125.25,528.32 129.75,528.32" fill="#e8141e" stroke="#e8141e" stroke-width="0.5" stroke-linejoin="round"/>
<polygon points="121.70,528.58 119.45,532.62 123.95,532.62" fill="#e8141e" stroke="#e8141e" stroke-width="0.5" stroke-linejoin="round"/>
<text x="30.40" y="529.00" font-size="10" font-weight="bold" font-style="normal" text-anchor="start" fill="#111" stroke="#111" stroke-width="0.4" textLength="102" lengthAdjust="spacingAndGlyphs" transform="rotate(-90 30.40 529.00)">Wnt/β-catenin activity</text>
<text x="360.80" y="407.50" font-size="11.3" font-weight="bold" font-style="normal" text-anchor="start" fill="#111" stroke="#111" stroke-width="0.4" textLength="38.7" lengthAdjust="spacingAndGlyphs">MKN74</text>
<rect x="348.50" y="460.40" width="15.50" height="82.60" fill="#fff" stroke="#111" stroke-width="1.3"/>
<rect x="372.40" y="502.10" width="15.30" height="40.90" fill="#fff" stroke="#111" stroke-width="1.3"/>
<rect x="396.40" y="503.00" width="15.30" height="40.00" fill="#fff" stroke="#111" stroke-width="1.3"/>
<line x1="339.10" y1="543.00" x2="420.40" y2="543.00" stroke="#111" stroke-width="1.4"/>
<line x1="356.00" y1="543.00" x2="356.00" y2="547.00" stroke="#111" stroke-width="1.2"/>
<text x="360.20" y="555.20" font-size="10" font-weight="normal" font-style="normal" text-anchor="end" fill="#111" stroke="#111" stroke-width="0.45" transform="rotate(-45 360.20 555.20)">DMSO+IgG</text>
<line x1="380.00" y1="543.00" x2="380.00" y2="547.00" stroke="#111" stroke-width="1.2"/>
<text x="384.20" y="555.20" font-size="10" font-weight="normal" font-style="normal" text-anchor="end" fill="#111" stroke="#111" stroke-width="0.45" transform="rotate(-45 384.20 555.20)">IWP-2</text>
<line x1="404.00" y1="543.00" x2="404.00" y2="547.00" stroke="#111" stroke-width="1.2"/>
<text x="408.20" y="555.20" font-size="10" font-weight="normal" font-style="normal" text-anchor="end" fill="#111" stroke="#111" stroke-width="0.45" transform="rotate(-45 408.20 555.20)">OMP-18R5</text>
<line x1="339.80" y1="423.00" x2="339.80" y2="543.60" stroke="#111" stroke-width="1.4"/>
<line x1="336.30" y1="543.00" x2="339.80" y2="543.00" stroke="#111" stroke-width="1.2"/>
<text x="335.10" y="546.10" font-size="8.5" font-weight="bold" font-style="normal" text-anchor="end" fill="#111" stroke="#111" stroke-width="0.4" textLength="11" lengthAdjust="spacingAndGlyphs">0.0</text>
<line x1="336.30" y1="503.20" x2="339.80" y2="503.20" stroke="#111" stroke-width="1.2"/>
<text x="335.10" y="506.30" font-size="8.5" font-weight="bold" font-style="normal" text-anchor="end" fill="#111" stroke="#111" stroke-width="0.4" textLength="11" lengthAdjust="spacingAndGlyphs">0.5</text>
<line x1="336.30" y1="463.40" x2="339.80" y2="463.40" stroke="#111" stroke-width="1.2"/>
<text x="335.10" y="466.50" font-size="8.5" font-weight="bold" font-style="normal" text-anchor="end" fill="#111" stroke="#111" stroke-width="0.4" textLength="11" lengthAdjust="spacingAndGlyphs">1.0</text>
<line x1="336.30" y1="423.60" x2="339.80" y2="423.60" stroke="#111" stroke-width="1.2"/>
<text x="335.10" y="426.70" font-size="8.5" font-weight="bold" font-style="normal" text-anchor="end" fill="#111" stroke="#111" stroke-width="0.4" textLength="11" lengthAdjust="spacingAndGlyphs">1.5</text>
<line x1="355.80" y1="432.00" x2="404.20" y2="432.00" stroke="#111" stroke-width="1.25"/>
<line x1="355.80" y1="427.20" x2="355.80" y2="436.80" stroke="#111" stroke-width="1.25"/>
<line x1="404.20" y1="427.20" x2="404.20" y2="436.80" stroke="#111" stroke-width="1.25"/>
<line x1="355.80" y1="448.00" x2="379.30" y2="448.00" stroke="#111" stroke-width="1.25"/>
<line x1="355.80" y1="443.20" x2="355.80" y2="452.80" stroke="#111" stroke-width="1.25"/>
<line x1="379.30" y1="443.20" x2="379.30" y2="452.80" stroke="#111" stroke-width="1.25"/>
<text x="379.50" y="428.00" font-size="8" font-weight="bold" font-style="normal" text-anchor="middle" fill="#111" stroke="#111" stroke-width="0.4">**</text>
<text x="368.80" y="445.30" font-size="8" font-weight="bold" font-style="normal" text-anchor="middle" fill="#111" stroke="#111" stroke-width="0.4">**</text>
<line x1="356.00" y1="457.30" x2="356.00" y2="463.60" stroke="#111" stroke-width="1.2"/>
<line x1="352.00" y1="457.30" x2="360.00" y2="457.30" stroke="#111" stroke-width="1.2"/>
<line x1="352.00" y1="463.60" x2="360.00" y2="463.60" stroke="#111" stroke-width="1.2"/>
<circle cx="356.00" cy="448.30" r="2.1" fill="#111" stroke="#111" stroke-width="0"/>
<circle cx="353.00" cy="461.70" r="2.1" fill="#111" stroke="#111" stroke-width="0"/>
<circle cx="360.80" cy="464.60" r="2.1" fill="#111" stroke="#111" stroke-width="0"/>
<circle cx="356.00" cy="468.50" r="2.1" fill="#111" stroke="#111" stroke-width="0"/>
<circle cx="357.50" cy="459.50" r="2.1" fill="#111" stroke="#111" stroke-width="0"/>
<rect x="373.40" y="496.80" width="4.4" height="4.4" fill="#1414dc" stroke="#1414dc" stroke-width="0"/>
<rect x="377.80" y="496.30" width="4.4" height="4.4" fill="#1414dc" stroke="#1414dc" stroke-width="0"/>
<rect x="382.60" y="496.80" width="4.4" height="4.4" fill="#1414dc" stroke="#1414dc" stroke-width="0"/>
<rect x="374.80" y="500.30" width="4.4" height="4.4" fill="#1414dc" stroke="#1414dc" stroke-width="0"/>
<rect x="381.30" y="500.60" width="4.4" height="4.4" fill="#1414dc" stroke="#1414dc" stroke-width="0"/>
<rect x="378.00" y="503.60" width="4.4" height="4.4" fill="#1414dc" stroke="#1414dc" stroke-width="0"/>
<line x1="404.50" y1="497.30" x2="404.50" y2="508.50" stroke="#e8141e" stroke-width="1.1"/>
<line x1="401.10" y1="497.30" x2="407.90" y2="497.30" stroke="#e8141e" stroke-width="1.1"/>
<line x1="401.10" y1="508.50" x2="407.90" y2="508.50" stroke="#e8141e" stroke-width="1.1"/>
<polygon points="400.20,479.84 397.80,484.16 402.60,484.16" fill="#e8141e" stroke="#e8141e" stroke-width="0.5" stroke-linejoin="round"/>
<polygon points="407.50,484.04 405.10,488.36 409.90,488.36" fill="#e8141e" stroke="#e8141e" stroke-width="0.5" stroke-linejoin="round"/>
<polygon points="399.20,494.84 396.80,499.16 401.60,499.16" fill="#e8141e" stroke="#e8141e" stroke-width="0.5" stroke-linejoin="round"/>
<polygon points="407.90,498.04 405.50,502.36 410.30,502.36" fill="#e8141e" stroke="#e8141e" stroke-width="0.5" stroke-linejoin="round"/>
<polygon points="401.20,508.24 398.80,512.56 403.60,512.56" fill="#e8141e" stroke="#e8141e" stroke-width="0.5" stroke-linejoin="round"/>
<polygon points="407.50,512.44 405.10,516.76 409.90,516.76" fill="#e8141e" stroke="#e8141e" stroke-width="0.5" stroke-linejoin="round"/>
<polygon points="404.00,532.24 401.60,536.56 406.40,536.56" fill="#e8141e" stroke="#e8141e" stroke-width="0.5" stroke-linejoin="round"/>
<polygon points="404.80,491.84 402.40,496.16 407.20,496.16" fill="#e8141e" stroke="#e8141e" stroke-width="0.5" stroke-linejoin="round"/>
<text x="316.40" y="542.60" font-size="11.2" font-weight="bold" font-style="normal" text-anchor="start" fill="#111" stroke="#111" stroke-width="0.4" textLength="118.6" lengthAdjust="spacingAndGlyphs" transform="rotate(-90 316.40 542.60)">Wnt/β-catenin activity</text>
<text x="111.20" y="611.30" font-size="10.6" font-weight="bold" font-style="italic" text-anchor="start" fill="#111" stroke="#111" stroke-width="0.4" textLength="28.8" lengthAdjust="spacingAndGlyphs">CD44</text>
<rect x="61.60" y="675.40" width="21.20" height="81.20" fill="#fff" stroke="#111" stroke-width="1.3"/>
<rect x="83.40" y="675.20" width="21.90" height="81.40" fill="#fff" stroke="#e8141e" stroke-width="1.3"/>
<rect x="116.80" y="710.30" width="21.50" height="46.30" fill="#fff" stroke="#111" stroke-width="1.3"/>
<rect x="139.00" y="728.50" width="21.20" height="28.10" fill="#fff" stroke="#e8141e" stroke-width="1.3"/>
<rect x="172.40" y="715.30" width="21.10" height="41.30" fill="#fff" stroke="#111" stroke-width="1.3"/>
<rect x="194.20" y="714.30" width="21.60" height="42.30" fill="#fff" stroke="#e8141e" stroke-width="1.3"/>
<line x1="49.90" y1="756.60" x2="229.50" y2="756.60" stroke="#111" stroke-width="1.4"/>
<line x1="50.60" y1="638.70" x2="50.60" y2="757.20" stroke="#111" stroke-width="1.4"/>
<line x1="47.10" y1="756.60" x2="50.60" y2="756.60" stroke="#111" stroke-width="1.2"/>
<text x="45.90" y="759.70" font-size="8.5" font-weight="bold" font-style="normal" text-anchor="end" fill="#111" stroke="#111" stroke-width="0.4" textLength="12.4" lengthAdjust="spacingAndGlyphs">0.0</text>
<line x1="47.10" y1="717.50" x2="50.60" y2="717.50" stroke="#111" stroke-width="1.2"/>
<text x="45.90" y="720.60" font-size="8.5" font-weight="bold" font-style="normal" text-anchor="end" fill="#111" stroke="#111" stroke-width="0.4" textLength="12.4" lengthAdjust="spacingAndGlyphs">0.5</text>
<line x1="47.10" y1="678.40" x2="50.60" y2="678.40" stroke="#111" stroke-width="1.2"/>
<text x="45.90" y="681.50" font-size="8.5" font-weight="bold" font-style="normal" text-anchor="end" fill="#111" stroke="#111" stroke-width="0.4" textLength="12.4" lengthAdjust="spacingAndGlyphs">1.0</text>
<line x1="47.10" y1="639.30" x2="50.60" y2="639.30" stroke="#111" stroke-width="1.2"/>
<text x="45.90" y="642.40" font-size="8.5" font-weight="bold" font-style="normal" text-anchor="end" fill="#111" stroke="#111" stroke-width="0.4" textLength="12.4" lengthAdjust="spacingAndGlyphs">1.5</text>
<line x1="72.20" y1="670.60" x2="72.20" y2="680.00" stroke="#111" stroke-width="1.2"/>
<line x1="66.95" y1="670.60" x2="77.45" y2="670.60" stroke="#111" stroke-width="1.2"/>
<line x1="66.95" y1="680.00" x2="77.45" y2="680.00" stroke="#111" stroke-width="1.2"/>
<circle cx="71.70" cy="667.10" r="2.45" fill="#111" stroke="#111" stroke-width="0"/>
<circle cx="75.60" cy="676.70" r="2.45" fill="#111" stroke="#111" stroke-width="0"/>
<circle cx="68.50" cy="681.00" r="2.45" fill="#111" stroke="#111" stroke-width="0"/>
<line x1="94.40" y1="665.20" x2="94.40" y2="685.00" stroke="#e8141e" stroke-width="1.2"/>
<line x1="88.90" y1="665.20" x2="99.90" y2="665.20" stroke="#e8141e" stroke-width="1.2"/>
<line x1="88.90" y1="685.00" x2="99.90" y2="685.00" stroke="#e8141e" stroke-width="1.2"/>
<rect x="92.15" y="654.25" width="4.5" height="4.5" fill="#e8141e" stroke="#e8141e" stroke-width="0"/>
<rect x="95.45" y="678.95" width="4.5" height="4.5" fill="#e8141e" stroke="#e8141e" stroke-width="0"/>
<rect x="88.35" y="682.75" width="4.5" height="4.5" fill="#e8141e" stroke="#e8141e" stroke-width="0"/>
<line x1="127.30" y1="702.70" x2="127.30" y2="716.90" stroke="#111" stroke-width="1.2"/>
<line x1="122.30" y1="702.70" x2="132.30" y2="702.70" stroke="#111" stroke-width="1.2"/>
<line x1="122.30" y1="716.90" x2="132.30" y2="716.90" stroke="#111" stroke-width="1.2"/>
<circle cx="126.90" cy="698.60" r="2.45" fill="#111" stroke="#111" stroke-width="0"/>
<circle cx="126.90" cy="708.80" r="2.45" fill="#111" stroke="#111" stroke-width="0"/>
<circle cx="126.90" cy="723.70" r="2.45" fill="#111" stroke="#111" stroke-width="0"/>
<line x1="149.60" y1="726.30" x2="149.60" y2="730.70" stroke="#e8141e" stroke-width="1.2"/>
<line x1="144.60" y1="726.30" x2="154.60" y2="726.30" stroke="#e8141e" stroke-width="1.2"/>
<line x1="144.60" y1="730.70" x2="154.60" y2="730.70" stroke="#e8141e" stroke-width="1.2"/>
<rect x="140.85" y="722.75" width="4.5" height="4.5" fill="#e8141e" stroke="#e8141e" stroke-width="0"/>
<rect x="147.55" y="727.55" width="4.5" height="4.5" fill="#e8141e" stroke="#e8141e" stroke-width="0"/>
<rect x="153.75" y="726.25" width="4.5" height="4.5" fill="#e8141e" stroke="#e8141e" stroke-width="0"/>
<line x1="182.70" y1="702.70" x2="182.70" y2="727.70" stroke="#111" stroke-width="1.2"/>
<line x1="177.35" y1="702.70" x2="188.05" y2="702.70" stroke="#111" stroke-width="1.2"/>
<line x1="177.35" y1="727.70" x2="188.05" y2="727.70" stroke="#111" stroke-width="1.2"/>
<circle cx="178.60" cy="701.60" r="2.45" fill="#111" stroke="#111" stroke-width="0"/>
<circle cx="186.20" cy="701.60" r="2.45" fill="#111" stroke="#111" stroke-width="0"/>
<circle cx="182.70" cy="740.30" r="2.45" fill="#111" stroke="#111" stroke-width="0"/>
<line x1="205.00" y1="711.00" x2="205.00" y2="717.50" stroke="#e8141e" stroke-width="1.2"/>
<line x1="200.50" y1="711.00" x2="209.50" y2="711.00" stroke="#e8141e" stroke-width="1.2"/>
<line x1="200.50" y1="717.50" x2="209.50" y2="717.50" stroke="#e8141e" stroke-width="1.2"/>
<rect x="202.75" y="706.05" width="4.5" height="4.5" fill="#e8141e" stroke="#e8141e" stroke-width="0"/>
<rect x="198.75" y="714.15" width="4.5" height="4.5" fill="#e8141e" stroke="#e8141e" stroke-width="0"/>
<rect x="206.25" y="712.75" width="4.5" height="4.5" fill="#e8141e" stroke="#e8141e" stroke-width="0"/>
<text x="57.60" y="772.30" font-size="9.6" font-weight="normal" font-style="normal" text-anchor="start" fill="#111" stroke="#111" stroke-width="0.45" textLength="50.6" lengthAdjust="spacingAndGlyphs">DMSO+IgG</text>
<text x="125.60" y="772.30" font-size="9.6" font-weight="normal" font-style="normal" text-anchor="start" fill="#111" stroke="#111" stroke-width="0.45" textLength="23.5" lengthAdjust="spacingAndGlyphs">IWP-2</text>
<text x="170.00" y="772.30" font-size="9.6" font-weight="normal" font-style="normal" text-anchor="start" fill="#111" stroke="#111" stroke-width="0.45" textLength="49" lengthAdjust="spacingAndGlyphs">OMP-18R5</text>
<text x="26.30" y="733.20" font-size="11.8" font-weight="bold" font-style="normal" text-anchor="start" fill="#111" stroke="#111" stroke-width="0.4" textLength="72.4" lengthAdjust="spacingAndGlyphs" transform="rotate(-90 26.30 733.20)">Fold change</text>
<circle cx="175.80" cy="631.30" r="2.5" fill="#111" stroke="#111" stroke-width="0"/>
<rect x="173.65" y="644.65" width="4.3" height="4.3" fill="#e8141e" stroke="#e8141e" stroke-width="0"/>
<text x="190.00" y="635.00" font-size="9.6" font-weight="normal" font-style="normal" text-anchor="start" fill="#111" stroke="#111" stroke-width="0.3" textLength="32" lengthAdjust="spacingAndGlyphs">MKN28</text>
<text x="190.00" y="650.20" font-size="9.6" font-weight="normal" font-style="normal" text-anchor="start" fill="#111" stroke="#111" stroke-width="0.3" textLength="32" lengthAdjust="spacingAndGlyphs">MKN74</text>
<text x="398.60" y="612.80" font-size="10.6" font-weight="bold" font-style="italic" text-anchor="start" fill="#111" stroke="#111" stroke-width="0.4" textLength="33.6" lengthAdjust="spacingAndGlyphs">AXIN2</text>
<rect x="352.20" y="678.60" width="21.50" height="78.80" fill="#fff" stroke="#111" stroke-width="1.3"/>
<rect x="374.30" y="673.00" width="21.90" height="84.40" fill="#fff" stroke="#e8141e" stroke-width="1.3"/>
<rect x="408.30" y="721.50" width="21.40" height="35.90" fill="#fff" stroke="#111" stroke-width="1.3"/>
<rect x="430.30" y="708.80" width="21.00" height="48.60" fill="#fff" stroke="#e8141e" stroke-width="1.3"/>
<rect x="463.50" y="729.00" width="21.50" height="28.40" fill="#fff" stroke="#111" stroke-width="1.3"/>
<rect x="485.60" y="743.00" width="21.40" height="14.40" fill="#fff" stroke="#e8141e" stroke-width="1.3"/>
<line x1="339.70" y1="757.40" x2="520.00" y2="757.40" stroke="#111" stroke-width="1.4"/>
<line x1="340.40" y1="639.90" x2="340.40" y2="758.00" stroke="#111" stroke-width="1.4"/>
<line x1="336.90" y1="757.40" x2="340.40" y2="757.40" stroke="#111" stroke-width="1.2"/>
<text x="335.70" y="760.50" font-size="8.5" font-weight="bold" font-style="normal" text-anchor="end" fill="#111" stroke="#111" stroke-width="0.4" textLength="12.4" lengthAdjust="spacingAndGlyphs">0.0</text>
<line x1="336.90" y1="718.43" x2="340.40" y2="718.43" stroke="#111" stroke-width="1.2"/>
<text x="335.70" y="721.53" font-size="8.5" font-weight="bold" font-style="normal" text-anchor="end" fill="#111" stroke="#111" stroke-width="0.4" textLength="12.4" lengthAdjust="spacingAndGlyphs">0.5</text>
<line x1="336.90" y1="679.47" x2="340.40" y2="679.47" stroke="#111" stroke-width="1.2"/>
<text x="335.70" y="682.57" font-size="8.5" font-weight="bold" font-style="normal" text-anchor="end" fill="#111" stroke="#111" stroke-width="0.4" textLength="12.4" lengthAdjust="spacingAndGlyphs">1.0</text>
<line x1="336.90" y1="640.50" x2="340.40" y2="640.50" stroke="#111" stroke-width="1.2"/>
<text x="335.70" y="643.60" font-size="8.5" font-weight="bold" font-style="normal" text-anchor="end" fill="#111" stroke="#111" stroke-width="0.4" textLength="12.4" lengthAdjust="spacingAndGlyphs">1.5</text>
<line x1="363.00" y1="676.60" x2="363.00" y2="680.60" stroke="#111" stroke-width="1.2"/>
<line x1="357.00" y1="676.60" x2="369.00" y2="676.60" stroke="#111" stroke-width="1.2"/>
<line x1="357.00" y1="680.60" x2="369.00" y2="680.60" stroke="#111" stroke-width="1.2"/>
<circle cx="356.00" cy="675.60" r="2.45" fill="#111" stroke="#111" stroke-width="0"/>
<circle cx="370.40" cy="676.20" r="2.45" fill="#111" stroke="#111" stroke-width="0"/>
<circle cx="363.00" cy="682.00" r="2.45" fill="#111" stroke="#111" stroke-width="0"/>
<line x1="385.40" y1="669.30" x2="385.40" y2="677.00" stroke="#e8141e" stroke-width="1.2"/>
<line x1="380.15" y1="669.30" x2="390.65" y2="669.30" stroke="#e8141e" stroke-width="1.2"/>
<line x1="380.15" y1="677.00" x2="390.65" y2="677.00" stroke="#e8141e" stroke-width="1.2"/>
<rect x="379.25" y="665.25" width="4.5" height="4.5" fill="#e8141e" stroke="#e8141e" stroke-width="0"/>
<rect x="386.45" y="667.15" width="4.5" height="4.5" fill="#e8141e" stroke="#e8141e" stroke-width="0"/>
<rect x="383.15" y="678.75" width="4.5" height="4.5" fill="#e8141e" stroke="#e8141e" stroke-width="0"/>
<line x1="419.00" y1="714.80" x2="419.00" y2="727.70" stroke="#111" stroke-width="1.2"/>
<line x1="413.65" y1="714.80" x2="424.35" y2="714.80" stroke="#111" stroke-width="1.2"/>
<line x1="413.65" y1="727.70" x2="424.35" y2="727.70" stroke="#111" stroke-width="1.2"/>
<circle cx="419.00" cy="709.40" r="2.45" fill="#111" stroke="#111" stroke-width="0"/>
<circle cx="419.00" cy="723.70" r="2.45" fill="#111" stroke="#111" stroke-width="0"/>
<circle cx="419.00" cy="731.70" r="2.45" fill="#111" stroke="#111" stroke-width="0"/>
<line x1="441.00" y1="701.50" x2="441.00" y2="716.10" stroke="#e8141e" stroke-width="1.2"/>
<line x1="435.60" y1="701.50" x2="446.40" y2="701.50" stroke="#e8141e" stroke-width="1.2"/>
<line x1="435.60" y1="716.10" x2="446.40" y2="716.10" stroke="#e8141e" stroke-width="1.2"/>
<rect x="434.25" y="697.95" width="4.5" height="4.5" fill="#e8141e" stroke="#e8141e" stroke-width="0"/>
<rect x="442.35" y="699.05" width="4.5" height="4.5" fill="#e8141e" stroke="#e8141e" stroke-width="0"/>
<rect x="439.15" y="721.95" width="4.5" height="4.5" fill="#e8141e" stroke="#e8141e" stroke-width="0"/>
<line x1="473.70" y1="722.30" x2="473.70" y2="735.80" stroke="#111" stroke-width="1.2"/>
<line x1="468.35" y1="722.30" x2="479.05" y2="722.30" stroke="#111" stroke-width="1.2"/>
<line x1="468.35" y1="735.80" x2="479.05" y2="735.80" stroke="#111" stroke-width="1.2"/>
<circle cx="473.70" cy="718.30" r="2.45" fill="#111" stroke="#111" stroke-width="0"/>
<circle cx="473.70" cy="730.40" r="2.45" fill="#111" stroke="#111" stroke-width="0"/>
<circle cx="473.70" cy="739.80" r="2.45" fill="#111" stroke="#111" stroke-width="0"/>
<line x1="496.30" y1="740.00" x2="496.30" y2="746.00" stroke="#e8141e" stroke-width="1.2"/>
<line x1="491.30" y1="740.00" x2="501.30" y2="740.00" stroke="#e8141e" stroke-width="1.2"/>
<line x1="491.30" y1="746.00" x2="501.30" y2="746.00" stroke="#e8141e" stroke-width="1.2"/>
<rect x="493.55" y="735.45" width="4.5" height="4.5" fill="#e8141e" stroke="#e8141e" stroke-width="0"/>
<rect x="490.85" y="742.95" width="4.5" height="4.5" fill="#e8141e" stroke="#e8141e" stroke-width="0"/>
<rect x="501.65" y="740.75" width="4.5" height="4.5" fill="#e8141e" stroke="#e8141e" stroke-width="0"/>
<text x="347.00" y="772.30" font-size="9.6" font-weight="normal" font-style="normal" text-anchor="start" fill="#111" stroke="#111" stroke-width="0.45" textLength="50.6" lengthAdjust="spacingAndGlyphs">DMSO+IgG</text>
<text x="415.00" y="772.30" font-size="9.6" font-weight="normal" font-style="normal" text-anchor="start" fill="#111" stroke="#111" stroke-width="0.45" textLength="23.5" lengthAdjust="spacingAndGlyphs">IWP-2</text>
<text x="460.80" y="772.30" font-size="9.6" font-weight="normal" font-style="normal" text-anchor="start" fill="#111" stroke="#111" stroke-width="0.45" textLength="48.6" lengthAdjust="spacingAndGlyphs">OMP-18R5</text>
<text x="317.80" y="736.50" font-size="11.8" font-weight="bold" font-style="normal" text-anchor="start" fill="#111" stroke="#111" stroke-width="0.4" textLength="72" lengthAdjust="spacingAndGlyphs" transform="rotate(-90 317.80 736.50)">Fold change</text>
<circle cx="466.20" cy="632.50" r="2.5" fill="#111" stroke="#111" stroke-width="0"/>
<rect x="464.05" y="646.35" width="4.3" height="4.3" fill="#e8141e" stroke="#e8141e" stroke-width="0"/>
<text x="480.60" y="635.80" font-size="9.6" font-weight="normal" font-style="normal" text-anchor="start" fill="#111" stroke="#111" stroke-width="0.3" textLength="31.5" lengthAdjust="spacingAndGlyphs">MKN28</text>
<text x="480.60" y="651.70" font-size="9.6" font-weight="normal" font-style="normal" text-anchor="start" fill="#111" stroke="#111" stroke-width="0.3" textLength="31.5" lengthAdjust="spacingAndGlyphs">MKN74</text>
</svg>
</body></html>
